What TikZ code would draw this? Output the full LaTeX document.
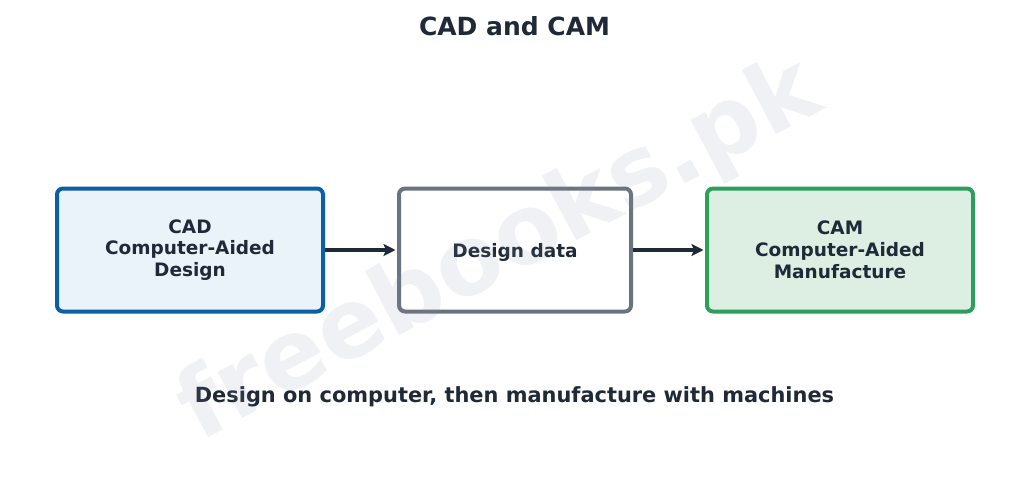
\documentclass[tikz,border=0pt]{standalone}
\usepackage{fontspec}
\setmainfont{DejaVu Sans}
\usetikzlibrary{arrows.meta}
\definecolor{txt}{HTML}{1F2937}
\definecolor{blueB}{HTML}{0B5FA5}
\definecolor{blueF}{HTML}{EAF2FA}
\definecolor{grayB}{HTML}{6B7280}
\definecolor{greenB}{HTML}{2E9E5B}
\definecolor{greenF}{HTML}{DDEFE2}
\definecolor{wm}{HTML}{8A94A6}
\tikzset{
  box/.style={draw, rectangle, rounded corners=6pt, line width=4pt,
    minimum height=123pt, align=center, text=txt,
    font=\bfseries\fontsize{18.5}{21.8}\selectfont},
  conn/.style={draw=txt, line width=4pt, -{Stealth[length=12pt,width=12pt,inset=2.5pt]}, shorten >=1.5pt}
}
\begin{document}
\begin{tikzpicture}[x=1pt,y=-1pt]
\useasboundingbox[fill=white] (0,0) rectangle (1029,477);
\node[text=txt, font=\bfseries\fontsize{25}{28}\selectfont] (title) at (514.5,26) {CAD and CAM};
\node[box, draw=blueB, fill=blueF, minimum width=266pt] (cad) at (190,250) {CAD\\Computer-Aided\\Design};
\node[box, draw=grayB, fill=white, minimum width=232pt, text depth=0pt] (data) at (515,250) {Design data};
\node[box, draw=greenB, fill=greenF, minimum width=266pt] (cam) at (840,250) {CAM\\Computer-Aided\\Manufacture};
\draw[conn] (cad.east) -- (data.west);
\draw[conn] (data.east) -- (cam.west);
\node[text=txt, font=\bfseries\fontsize{20.9}{24}\selectfont] (sub) at (514.5,397) {Design on computer, then manufacture with machines};
\node[text=wm, opacity=0.12, rotate=28, font=\bfseries\fontsize{96}{110}\selectfont] (mark) at (500,252) {freebooks.pk};
\end{tikzpicture}
\end{document}
